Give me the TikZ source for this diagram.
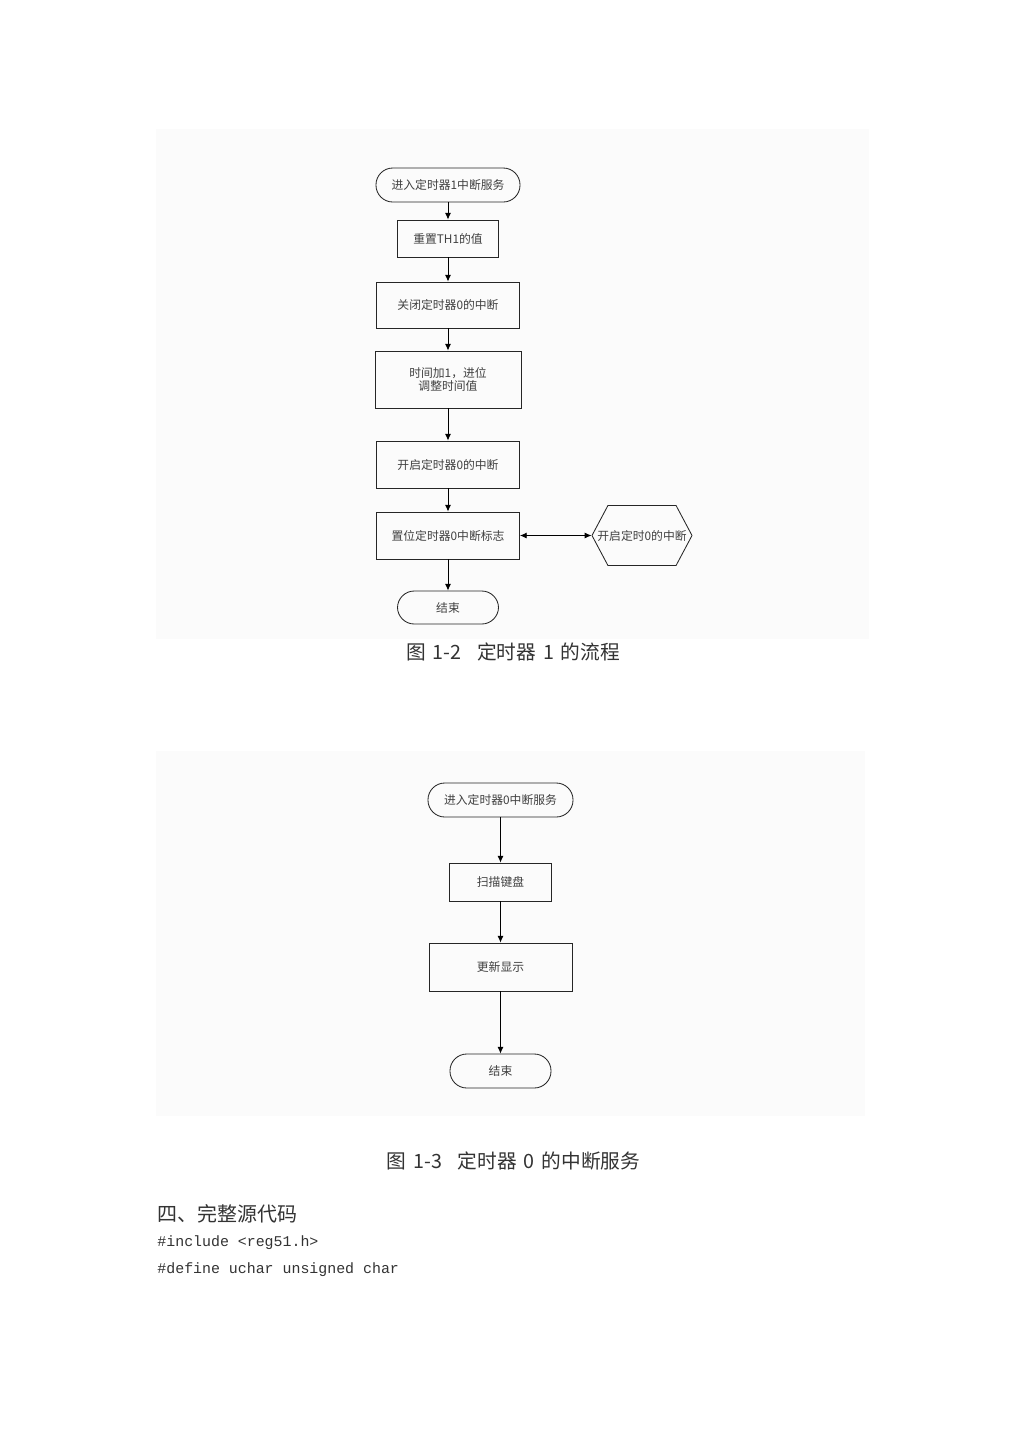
\documentclass[tikz,border=0pt]{standalone}
\usepackage{fontspec}
\newfontfamily\cjk{Noto Sans CJK SC}
\newfontfamily\codefont{Liberation Mono}
\usetikzlibrary{arrows.meta,shapes.symbols}
\begin{document}
\begin{tikzpicture}[x=0.025cm, y=-0.025cm, line width=0.6pt, >={Latex[length=1.7mm,width=1.5mm]},
  shorten >=0pt,
  panel/.style={fill=black!1.5, draw=none},
  proc/.style={shape=rectangle, draw=black!85, font=\cjk\fontsize{8.4}{9.4}\selectfont, text=black!75, align=center, inner sep=0pt},
  term/.style={proc, rounded corners=0.42cm},
  prep/.style={shape=signal, signal to=east and west, signal pointer angle=124, draw=black!85, inner sep=0pt,
    label={[font=\cjk\fontsize{8.4}{9.4}\selectfont, text=black!75, inner sep=0pt]center:#1}},
  caption/.style={font=\cjk\fontsize{14}{16}\selectfont, text=black!80}]
  \useasboundingbox (0,0) rectangle (1028,1454);
  \fill[white] (0,0) rectangle (1028,1454);
  \fill[panel] (156,129) rectangle (869,639);
  \fill[panel] (156,751) rectangle (865,1116);
  % timer 1
  \node [term, minimum width=3.6cm, minimum height=0.85cm] (s1) at (448,185) {进入定时器1中断服务};
  \node [proc, minimum width=2.525cm, minimum height=0.925cm] (b1) at (448,238.5) {重置TH1的值};
  \node [proc, minimum width=3.575cm, minimum height=1.15cm] (b2) at (448,305) {关闭定时器0的中断};
  \node [proc, minimum width=3.65cm, minimum height=1.425cm] (b3) at (448,379.5) {时间加1，进位\\调整时间值};
  \node [proc, minimum width=3.575cm, minimum height=1.175cm] (b4) at (448,464.5) {开启定时器0的中断};
  \node [proc, minimum width=3.575cm, minimum height=1.175cm] (b5) at (448,535.5) {置位定时器0中断标志};
  \node [term, minimum width=2.525cm, minimum height=0.825cm] (e1) at (448,607.5) {结束};
  \node [prep={开启定时0的中断}, minimum width=2.5cm, minimum height=1.5cm] (hx) at (642,535.5) {};
  \path[->] (s1) edge (b1) (b1) edge (b2) (b2) edge (b3) (b3) edge (b4) (b4) edge (b5) (b5) edge (e1);
  \path[<->] (b5) edge (hx);
  \node [caption] (cap1) at (513,652) {图\hspace{0.35em}1-2\hspace{0.8em}定时器\hspace{0.35em}1\hspace{0.35em}的流程};
  % timer 0
  \node [term, minimum width=3.625cm, minimum height=0.85cm] (s2) at (500.5,800) {进入定时器0中断服务};
  \node [proc, minimum width=2.55cm, minimum height=0.95cm] (c1) at (500.5,882) {扫描键盘};
  \node [proc, minimum width=3.575cm, minimum height=1.2cm] (c2) at (500.5,967) {更新显示};
  \node [term, minimum width=2.525cm, minimum height=0.85cm] (e2) at (500.5,1071) {结束};
  \path[->] (s2) edge (c1) (c1) edge (c2) (c2) edge (e2);
  \node [caption] (cap2) at (513.5,1161) {图\hspace{0.35em}1-3\hspace{0.8em}定时器\hspace{0.35em}0\hspace{0.35em}的中断服务};
  % text below
  \node [caption, font=\cjk\fontsize{14.2}{16}\selectfont, anchor=west, inner sep=0pt] (head) at (157,1214) {四、完整源代码};
  \node [anchor=west, inner sep=0pt, font=\codefont\fontsize{10.6}{12}\selectfont, text=black!80] (code1) at (157,1243) {\#include <reg51.h>};
  \node [anchor=west, inner sep=0pt, font=\codefont\fontsize{10.6}{12}\selectfont, text=black!80] (code2) at (157,1270) {\#define uchar unsigned char};
\end{tikzpicture}
\end{document}
